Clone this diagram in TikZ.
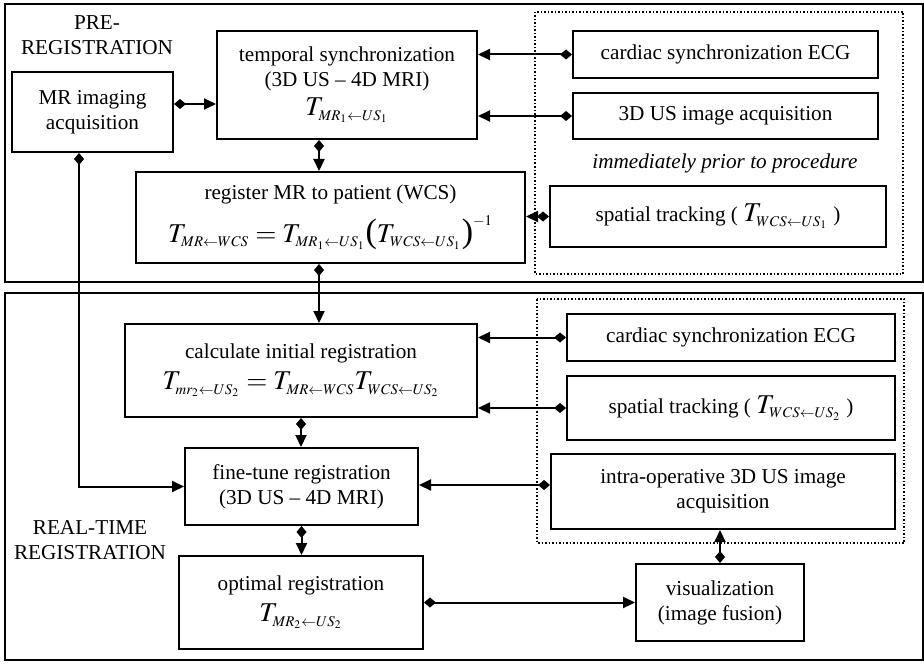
\documentclass[tikz,border=0pt]{standalone}
\usepackage{mathptmx}
\usepackage{fontspec}
\setmainfont{Liberation Serif}
\usetikzlibrary{arrows.meta, positioning}
\DeclareMathSizes{13.6}{13.6}{7.4}{5.8}
\newcommand{\bigmath}{\fontsize{13.6}{16}\selectfont}
\newcommand{\tallparen}[1]{\hbox{\fontsize{17}{17}\selectfont#1}}

\begin{document}
\begin{tikzpicture}[x=0.5pt, y=-0.5pt,
  box/.style={draw, line width=1pt, inner sep=1pt, align=center, font=\fontsize{10.6}{12.5}\selectfont},
  frame/.style={draw, line width=1.1pt},
  zone/.style={draw, densely dotted, line width=0.75pt},
  lbl/.style={align=center, font=\fontsize{10.6}{12.5}\selectfont},
  link/.style={line width=1pt, {Diamond[length=6pt,width=5pt]}-{Triangle[length=6pt,width=5.5pt]}}
]
\useasboundingbox (0,0) rectangle (924,663);

% --- Frames ---
\draw[frame] (5,4) rectangle (923,282);
\draw[frame] (5,293) rectangle (923,660);
\draw[zone] (535,12) rectangle (903,274);
\draw[zone] (537,299) rectangle (904,543);

% --- Pre-registration ---
\node[lbl] (prelbl) at (97,35) {PRE-\\REGISTRATION};
\node[box, minimum width=80.5pt, minimum height=40pt] (mri) at (92.5,112) {MR imaging\\acquisition};
\node[box, minimum width=130pt, minimum height=54pt] (tsync) at (347,85)
  {temporal synchronization\\(3D US -- 4D MRI)\\[2pt]{\bigmath$T_{MR_1\leftarrow US_1}$}};
\node[box, minimum width=194.5pt, minimum height=45.5pt] (reg) at (330.5,217.5)
  {register MR to patient (WCS)\\[4.5pt]{\bigmath$T_{MR\leftarrow WCS}=T_{MR_1\leftarrow US_1}\tallparen{(}T_{WCS\leftarrow US_1}\tallparen{)}^{-1}$}};
\node[box, minimum width=152.5pt, minimum height=23.5pt] (ecg1) at (725.5,54.5) {cardiac synchronization ECG};
\node[box, minimum width=152.5pt, minimum height=23pt] (us1) at (725.5,116) {3D US image acquisition};
\node[lbl, font=\fontsize{10.6}{12.5}\selectfont\itshape] (prior) at (725,163) {immediately prior to procedure};
\node[box, minimum width=168pt, minimum height=30.5pt] (track1) at (718,216.5)
  {spatial tracking ( {\bigmath$T_{WCS\leftarrow US_1}$} )};

% --- Real-time registration ---
\node[lbl] (rtlbl) at (90,540) {REAL-TIME\\REGISTRATION};
\node[box, minimum width=176pt, minimum height=46.5pt] (calc) at (301,370.5)
  {calculate initial registration\\[3pt]{\bigmath$T_{mr_2\leftarrow US_2}=T_{MR\leftarrow WCS}T_{WCS\leftarrow US_2}$}};
\node[box, minimum width=116.5pt, minimum height=38.5pt] (fine) at (301.5,486.5) {fine-tune registration\\(3D US -- 4D MRI)};
\node[box, minimum width=122pt, minimum height=46.5pt] (opt) at (301,602.5)
  {optimal registration\\[3pt]{\bigmath$T_{MR_2\leftarrow US_2}$}};
\node[box, minimum width=164pt, minimum height=23.5pt] (ecg2) at (731,337.5) {cardiac synchronization ECG};
\node[box, minimum width=164pt, minimum height=32pt] (track2) at (731,408)
  {spatial tracking ( {\bigmath$T_{WCS\leftarrow US_2}$} )};
\node[box, minimum width=172pt, minimum height=37.5pt] (intra) at (723,491.5) {intra-operative 3D US image\\acquisition};
\node[box, minimum width=84pt, minimum height=38.5pt] (vis) at (720,602.5) {visualization\\(image fusion)};

% --- Connectors ---
\draw[link] ([yshift=4pt]mri.east) -- ([yshift=4pt]mri.east -| tsync.west);
\draw[link] (ecg1.west) -- (ecg1.west -| tsync.east);
\draw[link] (us1.west) -- (us1.west -| tsync.east);
\draw[link] ([xshift=-14pt]tsync.south) -- ([xshift=-14pt]tsync.south |- reg.north);
\draw[link] (track1.west) -- (track1.west -| reg.east);
\draw[link] ([xshift=-5.75pt]reg.south) -- ([xshift=-5.75pt]reg.south |- calc.north);
\draw[link] ([xshift=-6.75pt]mri.south) |- (fine.west);
\draw[link] (ecg2.west) -- (ecg2.west -| calc.east);
\draw[link] (track2.west) -- (track2.west -| calc.east);
\draw[link] (calc.south) -- (calc.south |- fine.north);
\draw[link] ([yshift=3.25pt]intra.west) -- ([yshift=3.25pt]intra.west -| fine.east);
\draw[link] (fine.south) -- (fine.south |- opt.north);
\draw[link] (opt.east) -- (opt.east -| vis.west);
\draw[link] (vis.north) -- (vis.north |- intra.south);

\end{tikzpicture}
\end{document}
